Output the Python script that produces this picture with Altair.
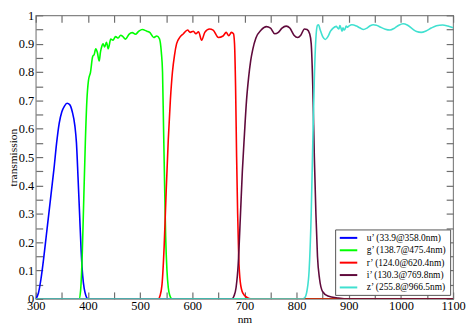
import altair as alt
import pandas as pd

# ---- data ----
labels = ["u’ (33.9@358.0nm)", "g’ (138.7@475.4nm)", "r’ (124.0@620.4nm)",
          "i’ (130.3@769.8nm)", "z’ (255.8@966.5nm)"]
colors = ["#0000ff", "#00ff00", "#ff0000", "#600a3c", "#40e0d0"]

u_wl = [300, 305, 310, 315, 320, 325, 330, 335, 340, 345, 350, 355, 360, 365, 370,
        375, 378, 381, 384, 387, 390, 393, 396, 400, 1100]
u_t = [0, 0.02, 0.07, 0.14, 0.22, 0.3, 0.38, 0.46, 0.55, 0.62, 0.66, 0.68, 0.69, 0.685,
       0.66, 0.61, 0.55, 0.43, 0.3, 0.17, 0.08, 0.035, 0.012, 0, 0]

g_wl = [300, 383, 386, 389, 392, 395, 398, 401, 405, 409, 412, 415, 418, 421.6, 424, 427,
        429, 432, 435.5, 439, 443.8, 448, 453, 458, 462.8, 467, 472, 478.6, 485, 491,
        497.6, 504, 513, 519, 526, 532, 537, 540.7, 543, 545, 547, 549, 551.5, 554, 557,
        561, 1100]
g_t = [0, 0, 0.03, 0.15, 0.35, 0.55, 0.7, 0.77, 0.8, 0.854, 0.862, 0.882, 0.87, 0.839,
       0.87, 0.893, 0.9, 0.888, 0.905, 0.882, 0.916, 0.912, 0.925, 0.92, 0.93, 0.925,
       0.916, 0.933, 0.939, 0.933, 0.944, 0.95, 0.944, 0.939, 0.922, 0.927, 0.918, 0.87,
       0.8, 0.6, 0.4, 0.22, 0.1, 0.04, 0.012, 0, 0]

r_wl = [300, 535, 538, 542, 546, 550, 554, 558, 562, 566, 570, 576, 583, 591, 596, 602,
        607, 612, 618, 624, 633, 640, 650, 659, 665, 670, 675, 679, 681, 683, 685, 687,
        689, 692, 697, 705, 712, 1100]
r_t = [0, 0, 0.01, 0.05, 0.18, 0.38, 0.56, 0.7, 0.8, 0.86, 0.9, 0.922, 0.935, 0.948, 0.94,
       0.944, 0.935, 0.942, 0.912, 0.94, 0.952, 0.948, 0.922, 0.927, 0.94, 0.928, 0.94,
       0.935, 0.9, 0.75, 0.5, 0.3, 0.15, 0.06, 0.02, 0.005, 0, 0]

i_wl = [300, 676, 680, 684, 688, 692, 696, 700, 704, 708, 712, 716, 722, 732, 742, 750,
        758, 765, 772, 780, 787, 795, 802, 808, 815, 820, 825, 828, 831, 834, 837, 840,
        844, 850, 860, 880, 900, 1100]
i_t = [0, 0, 0.01, 0.04, 0.12, 0.28, 0.45, 0.58, 0.7, 0.78, 0.84, 0.88, 0.92, 0.948, 0.96,
       0.955, 0.935, 0.94, 0.955, 0.962, 0.955, 0.93, 0.922, 0.93, 0.952, 0.95, 0.935,
       0.9, 0.75, 0.5, 0.3, 0.15, 0.07, 0.025, 0.01, 0.003, 0, 0]

z_wl = [300, 812, 816, 820, 824, 828, 831, 834, 837, 840, 842, 845, 850, 855, 860, 865,
        870, 876, 879, 881, 883, 885, 887, 889, 891, 893, 895, 897, 900, 906, 915, 922,
        928, 935, 941, 947, 953, 960, 970, 979, 988, 996, 1004, 1012, 1022, 1030, 1039,
        1048, 1058, 1068, 1080, 1090, 1100]
z_t = [0, 0, 0.005, 0.03, 0.1, 0.3, 0.55, 0.78, 0.92, 0.965, 0.967, 0.95, 0.925, 0.915,
       0.925, 0.944, 0.955, 0.961, 0.955, 0.952, 0.964, 0.955, 0.944, 0.956, 0.948, 0.952,
       0.962, 0.958, 0.962, 0.967, 0.962, 0.955, 0.95, 0.955, 0.963, 0.967, 0.965, 0.959,
       0.951, 0.948, 0.955, 0.965, 0.97, 0.966, 0.952, 0.943, 0.94, 0.945, 0.955, 0.963,
       0.966, 0.962, 0.956]

x_ticks = [300, 350, 400, 450, 500, 550, 600, 650, 700, 750, 800, 850, 900, 950, 1000,
           1050, 1100]
y_ticks = [0, 0.05, 0.1, 0.15, 0.2, 0.25, 0.3, 0.35, 0.4, 0.45, 0.5, 0.55, 0.6, 0.65,
           0.7, 0.75, 0.8, 0.85, 0.9, 0.95, 1]

rows = []
for lab, xs, ys in zip(labels, [u_wl, g_wl, r_wl, i_wl, z_wl], [u_t, g_t, r_t, i_t, z_t]):
    for a, b in zip(xs, ys):
        rows.append({"band": lab, "wl": a, "t": b})
df = pd.DataFrame(rows)

W, H = 421, 286
FONT = "Liberation Serif"
GREY = "#858585"
TICK = "#6e6e6e"
TL = 7

xscale = alt.Scale(domain=[300, 1100], nice=False, zero=False)
yscale = alt.Scale(domain=[0, 1], nice=False, zero=False)

common = dict(domain=False, grid=False, ticks=True, tickSize=TL, tickColor=TICK,
              tickWidth=1.2, offset=-TL, labelFlush=False, labelOverlap=False)

xaxis = alt.Axis(orient="bottom", values=x_ticks, title="nm", format="d",
                 labelExpr="datum.value % 100 == 0 ? datum.label : ''",
                 labelPadding=1, titlePadding=1,
                 labelFont=FONT, labelFontSize=12.5, labelColor="black",
                 titleFont=FONT, titleFontSize=11.5, titleFontWeight="normal",
                 titleColor="black", **common)
yaxis = alt.Axis(orient="left", values=y_ticks, title="transmission", format="~g",
                 labelExpr="round(datum.value * 100) % 10 == 0 ? datum.label : ''",
                 labelPadding=2, titlePadding=0,
                 labelFont=FONT, labelFontSize=12.5, labelColor="black",
                 titleFont=FONT, titleFontSize=11.5, titleFontWeight="normal",
                 titleColor="black", **common)
xaxis_top = alt.Axis(orient="top", values=x_ticks, labels=False, title=None, **common)
yaxis_right = alt.Axis(orient="right", values=y_ticks, labels=False, title=None, **common)

legend = alt.Legend(title=None, orient="none", legendX=302, legendY=216,
                    symbolType="M-0.85,0H3.07", symbolSize=81, symbolStrokeWidth=2,
                    labelFont=FONT, labelFontSize=9.5, labelColor="black",
                    labelOffset=18, rowPadding=2.5, padding=3,
                    strokeColor="#555555", fillColor="white")

lines = alt.Chart(df).mark_line(strokeWidth=1.6, interpolate="monotone", clip=True).encode(
    x=alt.X("wl:Q", scale=xscale, axis=xaxis),
    y=alt.Y("t:Q", scale=yscale, axis=yaxis),
    color=alt.Color("band:N", scale=alt.Scale(domain=labels, range=colors),
                    sort=labels, legend=legend),
)

frame_axes = alt.Chart(df).mark_point(opacity=0, size=1).encode(
    x=alt.X("wl:Q", scale=xscale, axis=xaxis_top),
    y=alt.Y("t:Q", scale=yscale, axis=yaxis_right),
)

chart = alt.layer(lines, frame_axes).resolve_axis(
    x="independent", y="independent"
).properties(
    width=W, height=H, autosize="none",
    padding={"left": 28, "top": 6, "right": 13, "bottom": 26},
).configure_view(stroke=GREY, strokeWidth=1.2)

chart.save("out.html", embed_options={"renderer": "svg", "actions": False})
